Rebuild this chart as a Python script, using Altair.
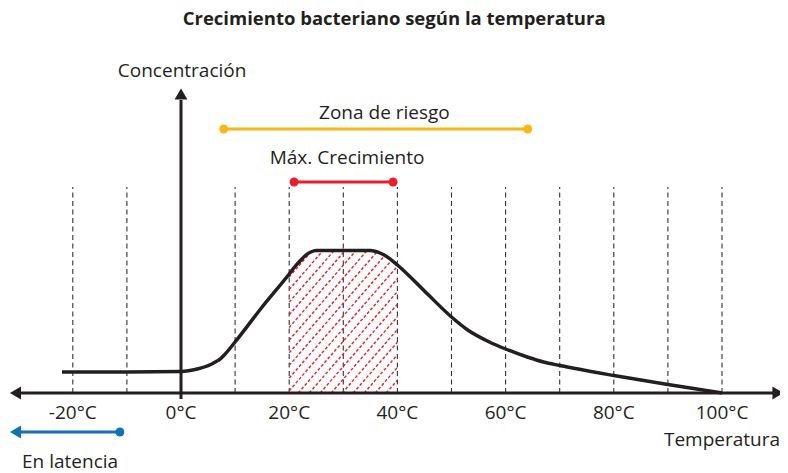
import altair as alt
import numpy as np
import pandas as pd

# ---------------- data ----------------
title_text = "Crecimiento bacteriano según la temperatura"

# growth curve: temperature (°C) vs. relative concentration (arbitrary units)
curve_temp = [-22, -10, 0, 3, 5.5, 6.5, 7, 8, 10, 15, 20, 21, 22, 23, 24, 25, 30, 35, 36, 37, 38, 40, 45, 50, 53, 57, 60, 64, 67, 70, 80, 90, 100]
curve_conc = [21, 21, 21.5, 24, 28.5, 31.5, 33, 38, 51, 86, 119, 126, 132, 137.5, 141, 142.5, 142.5, 142.5, 141.5, 139.5, 136.5, 128, 102, 76, 63, 51, 44, 36, 31, 27.5, 17.5, 8.5, 0]

tick_temps = [-20, 0, 20, 40, 60, 80, 100]
tick_labels = ["-20°C", "0°C", "20°C", "40°C", "60°C", "80°C", "100°C"]
grid_temps = [-20, -10, 10, 20, 30, 40, 50, 60, 70, 80, 90, 100]

# ranges (°C)
zona_riesgo = [7.9, 64.1]
max_crecimiento = [20.9, 39.2]
latencia_end = -11.3
hatch_range = [20, 40]

ann_labels = ["Zona de riesgo", "Máx. Crecimiento", "En latencia"]
axis_labels = ["Concentración", "Temperatura"]

# ---------------- layout ----------------
W, H = 772, 465
x_dom = [-31.978, 110.721]
y_dom = [-80, 385]
px = W / (x_dom[1] - x_dom[0])

FONT = "Open Sans"
INK = "#231f20"
YELLOW = "#fbb617"
RED = "#ec1c2a"
BLUE = "#1172ba"

xs = alt.Scale(domain=x_dom, nice=False, zero=False)
ys = alt.Scale(domain=y_dom, nice=False, zero=False)


def X(f="t"):
    return alt.X(f"{f}:Q", scale=xs, axis=None)


def Y(f="c"):
    return alt.Y(f"{f}:Q", scale=ys, axis=None)


# dashed verticals
grid_top = 206
grid_df = pd.DataFrame({"t": grid_temps, "c": 0, "c2": grid_top})
grid = alt.Chart(grid_df).mark_rule(color="#333333", strokeWidth=1.1, strokeDash=[5, 3.5]).encode(
    x=X(), y=Y(), y2="c2:Q")

# hatching of max-growth zone, clipped under the curve
k = 1.15
spacing = 11
ft = np.linspace(hatch_range[0], hatch_range[1], 4001)
fc = np.interp(ft, curve_temp, curve_conc)
fx = ft * px
segs = []
for x0 in np.arange(hatch_range[0] * px - 200, hatch_range[1] * px, spacing):
    yy = k * (fx - x0)
    inside = np.where((yy >= 0) & (yy <= fc - 1))[0]
    if len(inside) < 2:
        continue
    i0, i1 = inside[0], inside[-1]
    segs.append({"t": ft[i0], "c": yy[i0], "t2": ft[i1], "c2": yy[i1]})
hatch_df = pd.DataFrame(segs)
hatch = alt.Chart(hatch_df).mark_rule(color=RED, strokeWidth=1.4, strokeDash=[3, 2]).encode(
    x=X(), y=Y(), x2="t2:Q", y2="c2:Q")

# axes lines
axes_df = pd.DataFrame({
    "t": [-30.5, 0], "c": [0, -6], "t2": [109.6, 0], "c2": [0, 293]})
axes = alt.Chart(axes_df).mark_rule(color=INK, strokeWidth=3).encode(
    x=X(), y=Y(), x2="t2:Q", y2="c2:Q")

heads_df = pd.DataFrame({
    "t": [-30.6, 110.35, 0, -30.6],
    "c": [0, 0, 299, -39],
    "shape": ["triangle-left", "triangle-right", "triangle-up", "triangle-left"],
    "col": [INK, INK, INK, BLUE]})
heads = alt.Chart(heads_df).mark_point(filled=True, size=165, opacity=1, strokeWidth=0).encode(
    x=X(), y=Y(),
    shape=alt.Shape("shape:N", scale=None),
    color=alt.Color("col:N", scale=None))

# curve
curve_df = pd.DataFrame({"t": curve_temp, "c": curve_conc})
curve = alt.Chart(curve_df).mark_line(color=INK, strokeWidth=3.5, interpolate="monotone",
                                      strokeJoin="round", strokeCap="butt").encode(x=X(), y=Y())

# annotation ranges
rng_df = pd.DataFrame({
    "t": [zona_riesgo[0], max_crecimiento[0], -30.0],
    "t2": [zona_riesgo[1], max_crecimiento[1], latencia_end],
    "c": [264, 211, -39],
    "col": [YELLOW, RED, BLUE]})
rngs = alt.Chart(rng_df).mark_rule(strokeWidth=3).encode(
    x=X(), y=Y(), x2="t2:Q", color=alt.Color("col:N", scale=None))

dots_df = pd.DataFrame({
    "t": [zona_riesgo[0], zona_riesgo[1], max_crecimiento[0], max_crecimiento[1], latencia_end],
    "c": [264, 264, 211, 211, -39],
    "col": [YELLOW, YELLOW, RED, RED, BLUE]})
dots = alt.Chart(dots_df).mark_circle(size=80, opacity=1).encode(
    x=X(), y=Y(), color=alt.Color("col:N", scale=None))

# tick labels
ticks_df = pd.DataFrame({"t": tick_temps, "label": tick_labels, "c": -20})
ticks = alt.Chart(ticks_df).mark_text(font=FONT, fontSize=19, color=INK, baseline="middle", align="center").encode(
    x=X(), y=Y(), text="label:N")

# other labels
lab_df = pd.DataFrame({
    "label": [ann_labels[0], ann_labels[1], ann_labels[2], axis_labels[0], axis_labels[1]],
    "t": [37.6, 30.7, -20.5, 0.2, 100.0],
    "c": [280, 235, -69, 322, -47]})
labs = alt.Chart(lab_df).mark_text(font=FONT, fontSize=19, color=INK, baseline="middle", align="center").encode(
    x=X(), y=Y(), text="label:N")

title_df = pd.DataFrame({"label": [title_text], "t": [39.4], "c": [374]})
title = alt.Chart(title_df).mark_text(font=FONT, fontSize=18.5, fontWeight="bold", color=INK,
                                      baseline="middle", align="center").encode(
    x=X(), y=Y(), text="label:N")

chart = alt.layer(grid, hatch, axes, curve, heads, rngs, dots, ticks, labs, title).properties(
    width=W, height=H, autosize=alt.AutoSizeParams(type="none"), padding=0,
    background="white"
).configure_view(stroke=None)

chart.save("out.html", embed_options={"renderer": "svg", "actions": False})
